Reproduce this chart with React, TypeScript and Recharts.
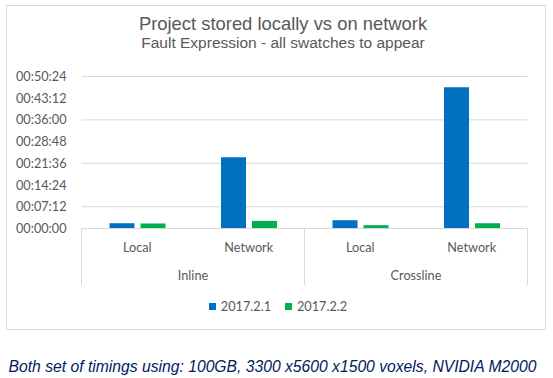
import { BarChart, Bar, XAxis, YAxis, CartesianGrid, Legend } from 'recharts'

// values in seconds
const subCategories = ['Local', 'Network', 'Local', 'Network']
const groups = ['Inline', 'Inline', 'Crossline', 'Crossline']
const v2017_2_1 = [105, 1418, 165, 2810]
const v2017_2_2 = [100, 151, 66, 105]
const yTicks = [0, 432, 864, 1296, 1728, 2160, 2592, 3024]

const W = 553
const H = 378
const CHART_H = 330
const PLOT_LEFT = 81.5
const PLOT_RIGHT = 527.5
const PLOT_TOP = 76.5
const PLOT_BOTTOM = 228.5
const AXIS1_H = 28
const AXIS2_H = 30
const SEP_BOTTOM = 285
const GRID = '#D9D9D9'
const LABEL = '#595959'
const AXIS_FONT = 'Lato, "Noto Sans", sans-serif'
const AXIS_SIZE = 12.7
const TITLE_FONT = '"Liberation Sans", Arial, sans-serif'

const catW = (PLOT_RIGHT - PLOT_LEFT) / subCategories.length

const data = subCategories.map((s, i) => ({
  sub: s,
  group: groups[i],
  a: v2017_2_1[i],
  b: v2017_2_2[i],
}))

const pad = (n: number) => String(n).padStart(2, '0')
const fmtTime = (v: number) => `${pad(Math.floor(v / 3600))}:${pad(Math.floor((v % 3600) / 60))}:${pad(v % 60)}`

function GroupTick(props: any) {
  const { x, index, payload } = props
  if (index % 2 !== 0) return <g />
  const left = x - catW / 2
  const right = x + catW * 1.5
  const last = index === groups.length - 2
  return (
    <g>
      <line x1={left} x2={left} y1={PLOT_BOTTOM} y2={SEP_BOTTOM} stroke={GRID} />
      {last && <line x1={right} x2={right} y1={PLOT_BOTTOM} y2={SEP_BOTTOM} stroke={GRID} />}
      <text x={x + catW / 2} y={279.5} textAnchor="middle" fill={LABEL} fontFamily={AXIS_FONT} fontSize={AXIS_SIZE}>
        {payload.value}
      </text>
    </g>
  )
}

function renderLegend(props: any) {
  const items = props.payload || []
  return (
    <div style={{ display: 'flex', justifyContent: 'center', gap: 14, fontFamily: AXIS_FONT, fontSize: AXIS_SIZE, color: LABEL, lineHeight: '14px' }}>
      {items.map((p: any) => (
        <span key={p.value} style={{ display: 'flex', alignItems: 'center' }}>
          <span style={{ width: 7, height: 7, background: p.color, marginRight: 5, display: 'inline-block' }} />
          <span>{p.value}</span>
        </span>
      ))}
    </div>
  )
}

export default function App() {
  return (
    <div style={{ position: 'fixed', left: 0, top: 0, width: W, height: H, background: '#fff', overflow: 'hidden' }}>
      <div style={{ position: 'absolute', left: 0, top: 0 }}>
        <BarChart
          width={W}
          height={CHART_H}
          data={data}
          barSize={25}
          barGap={6}
          margin={{ top: PLOT_TOP, right: W - PLOT_RIGHT, left: 0, bottom: CHART_H - PLOT_BOTTOM - AXIS1_H - AXIS2_H }}
        >
          <CartesianGrid vertical={false} stroke={GRID} />
          <YAxis
            width={PLOT_LEFT}
            domain={[0, 3024]}
            ticks={yTicks}
            tickFormatter={fmtTime}
            axisLine={false}
            tickLine={false}
            tickSize={0}
            tickMargin={15}
            tick={{ fill: LABEL, fontFamily: AXIS_FONT, fontSize: AXIS_SIZE }}
          />
          <XAxis
            dataKey="sub"
            height={AXIS1_H}
            interval={0}
            tickLine={false}
            tickMargin={8}
            axisLine={{ stroke: GRID }}
            tick={{ fill: LABEL, fontFamily: AXIS_FONT, fontSize: AXIS_SIZE }}
          />
          <XAxis
            xAxisId="grp"
            dataKey="group"
            height={AXIS2_H}
            interval={0}
            axisLine={false}
            tickLine={false}
            tick={<GroupTick />}
          />
          <Legend
            layout="horizontal"
            verticalAlign="middle"
            align="center"
            content={renderLegend}
            wrapperStyle={{ top: 299, left: 0, width: 556 }}
          />
          <Bar dataKey="a" name="2017.2.1" fill="#0070C0" isAnimationActive={false} />
          <Bar dataKey="b" name="2017.2.2" fill="#00B050" isAnimationActive={false} />
        </BarChart>
      </div>
      <div style={{ position: 'absolute', left: 6, top: 5, width: 540, height: 325, border: `1px solid ${GRID}`, boxSizing: 'border-box', pointerEvents: 'none' }} />
      <svg width={W} height={H} style={{ position: 'absolute', left: 0, top: 0, pointerEvents: 'none' }}>
        <text x={283} y={29.5} textAnchor="middle" fill={LABEL} fontFamily={TITLE_FONT} fontSize={18.4}>
          Project stored locally vs on network
        </text>
        <text x={283} y={48} textAnchor="middle" fill={LABEL} fontFamily={TITLE_FONT} fontSize={15.5}>
          Fault Expression - all swatches to appear
        </text>
        <text x={272.5} y={372} textAnchor="middle" fill="#002060" fontStyle="italic" fontFamily={TITLE_FONT} fontSize={15.7}>
          Both set of timings using: 100GB, 3300 x5600 x1500 voxels, NVIDIA M2000
        </text>
      </svg>
    </div>
  )
}
